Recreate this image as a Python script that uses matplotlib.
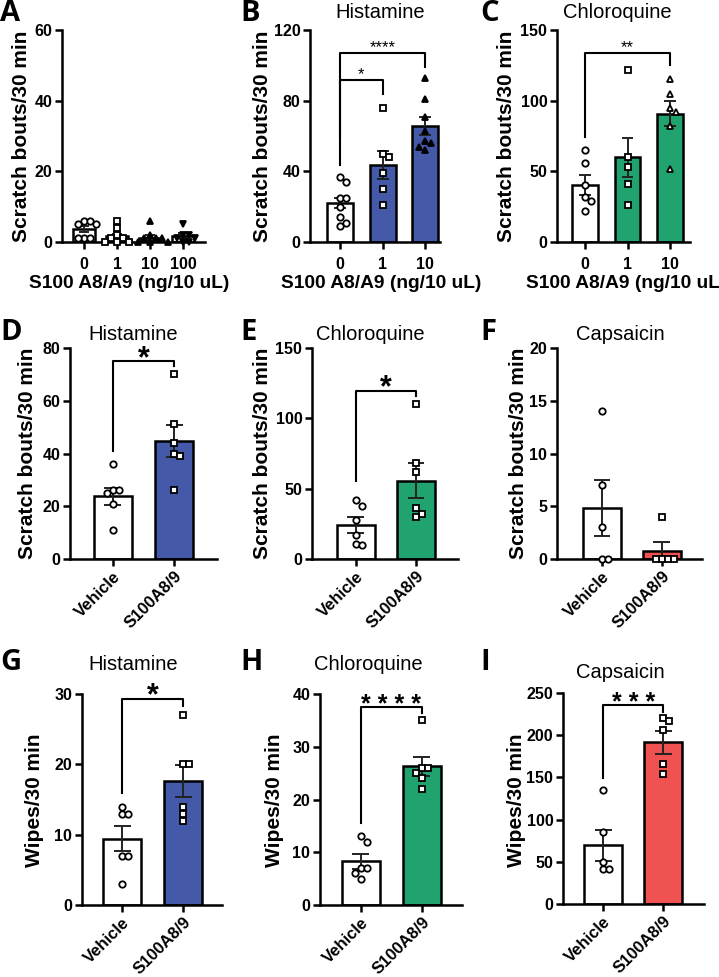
import matplotlib.pyplot as plt
import numpy as np

plt.rcParams['font.family'] = ['Liberation Sans', 'DejaVu Sans']

W, H = 719, 977

# ---- data ----
dose_labels_a = ["0", "1", "10", "100"]
dose_labels_bc = ["0", "1", "10"]
treat_labels = ["Vehicle", "S100A8/9"]

a_means = [3.6, 1.7, 1.2, 1.8]
a_sems = [0.8, 0.7, 0.7, 0.7]
a_points = [[6, 6, 5, 5, 1, 1, 1], [6, 4, 2, 1, 1, 0, 0, 0],
            [6, 2, 1, 1, 1, 0, 0, 0], [5, 2, 2, 1, 1, 0, 0]]

b_means = [21.9, 43.5, 65.8]
b_sems = [2.8, 7.8, 5.2]
b_points = [[37, 34, 25, 25, 20, 14, 11, 9], [76, 50, 48, 39, 30, 21],
            [93, 81, 71, 63, 57, 56, 54, 52]]

c_means = [40.5, 59.8, 90.8]
c_sems = [7.0, 13.5, 9.0]
c_points = [[65, 56, 40, 32, 29, 22], [122, 60, 53, 41, 26],
            [115, 105, 95, 92, 82, 52]]

d_means = [23.8, 44.7]
d_sems = [3.3, 6.0]
d_points = [[36, 26, 26, 25, 21, 11], [70, 51, 44, 40, 39, 26]]

e_means = [24.0, 55.8]
e_sems = [5.8, 12.5]
e_points = [[42, 38, 28, 17, 11, 10], [110, 68, 62, 36, 32, 30]]

f_means = [4.8, 0.8]
f_sems = [2.65, 0.8]
f_points = [[14, 7, 3, 0, 0], [4, 0, 0, 0, 0]]

g_means = [9.45, 17.6]
g_sems = [1.8, 2.3]
g_points = [[14, 13, 13, 7, 7, 3], [27, 20, 20, 14, 13, 12]]

h_means = [8.3, 26.3]
h_sems = [1.4, 1.8]
h_points = [[13, 12, 7, 7, 6, 5], [35, 26, 26, 25, 24, 22]]

i_means = [69.8, 191.5]
i_sems = [18.4, 13.5]
i_points = [[135, 85, 50, 41, 41], [220, 217, 206, 166, 154]]

BLUE = "#4459a8"
GREEN = "#20a36e"
RED = "#f05252"

fig = plt.figure(figsize=(W / 100, H / 100), dpi=100)


def fx(x):
    return x / W


def fy(y):
    return 1 - y / H


def swarm(vals, ppu_y, d=6.0):
    # simple deterministic beeswarm, offsets in pixels
    placed = []
    offs = []
    for v in vals:
        y = v * ppu_y
        for k in [0, 1, -1, 2, -2, 3, -3, 4, -4]:
            x = k * d
            if all((x - px) ** 2 + (y - py) ** 2 >= (d * 0.95) ** 2 for px, py in placed):
                break
        placed.append((x, y))
        offs.append(x)
    return offs


def panel(box, labels, means, sems, points, colors, markers, mfcs,
          ymax, yticks, xlim, width, rotate):
    sx, ex, ty, by = box
    ax = fig.add_axes([fx(sx), fy(by), fx(ex - sx), (by - ty) / H])
    x = np.arange(len(labels))
    ax.bar(x, means, width, color=colors, edgecolor="black", linewidth=1.8, zorder=2)
    ppu_y = (by - ty) / ymax
    ppu_x = (ex - sx) / (xlim[1] - xlim[0])
    cap = 0.14
    for i in range(len(labels)):
        lo, hi = means[i] - sems[i], means[i] + sems[i]
        ax.vlines(x[i], lo, hi, color="#222222", lw=1.4, zorder=4)
        ax.hlines([lo, hi], x[i] - cap, x[i] + cap, color="#222222", lw=1.4, zorder=4)
        offs = swarm(points[i], ppu_y)
        ax.plot(x[i] + np.array(offs) / ppu_x, points[i], linestyle="none",
                marker=markers[i], markersize=4.6, markerfacecolor=mfcs[i],
                markeredgecolor="black", markeredgewidth=1.3, zorder=5, clip_on=False)
    ax.set_xlim(xlim)
    ax.set_ylim(0, ymax)
    ax.set_yticks(yticks)
    ax.set_xticks(x)
    for s in ["top", "right"]:
        ax.spines[s].set_visible(False)
    for s in ["left", "bottom"]:
        ax.spines[s].set_linewidth(1.8)
        ax.spines[s].set_zorder(3)
    ax.tick_params(width=1.8, length=5, labelsize=11.5)
    ax.tick_params(axis="y", pad=2)
    for t in ax.get_yticklabels():
        t.set_fontweight("bold")
    if rotate:
        ax.tick_params(axis="x", pad=2)
        ax.set_xticklabels(labels, rotation=45, ha="right", rotation_mode="anchor",
                           fontsize=12, fontweight="bold")
    else:
        ax.tick_params(axis="x", pad=6)
        ax.set_xticklabels(labels, fontsize=11.5, fontweight="bold")
    ax.patch.set_alpha(0)
    return ax


def bracket(ax, x0, x1, y, l0, r1, txt, size, weight="bold", dy=0.0):
    ax.plot([x0, x0, x1, x1], [l0, y, y, r1], color="black", lw=1.5,
            clip_on=False, zorder=6)
    ax.text((x0 + x1) / 2, y + dy, txt, ha="center", va="bottom",
            fontsize=size, fontweight=weight, clip_on=False)


def ylab(x, y, txt):
    fig.text(fx(x), fy(y), txt, rotation=90, ha="center", va="center",
             fontsize=15, fontweight="bold")


def title(x, y, txt):
    fig.text(fx(x), fy(y), txt, ha="center", va="center", fontsize=14.5)


def letter(x, y, txt):
    fig.text(fx(x), fy(y), txt, ha="left", va="top", fontsize=21,
             fontweight="bold", family="Open Sans")


# ---- row 1 ----
ax = panel((62, 205, 30, 242), dose_labels_a, a_means, a_sems, a_points,
           ["white"] * 4, ["o", "s", "^", "v"], ["white", "white", "black", "black"],
           60, [0, 20, 40, 60], (-0.667, 3.667), 0.64, False)
ylab(22, 136, "Scratch bouts/30 min")
fig.text(fx(129), fy(284), "S100 A8/A9 (ng/10 uL)", ha="center", va="center",
         fontsize=13.8, fontweight="bold")
letter(0, -1, "A")

ax = panel((310, 440, 30, 242), dose_labels_bc, b_means, b_sems, b_points,
           ["white", BLUE, BLUE], ["o", "s", "^"], ["white", "white", "black"],
           120, [0, 40, 80, 120], (-0.706, 2.35), 0.61, False)
bracket(ax, 0, 1, 91.7, 59.5, 83.7, "*", 12, "normal", dy=-1)
bracket(ax, 0, 2, 106.8, 43.5, 99, "****", 12, "normal", dy=-1)
ylab(262, 136, "Scratch bouts/30 min")
fig.text(fx(381), fy(284), "S100 A8/A9 (ng/10 uL)", ha="center", va="center",
         fontsize=13.8, fontweight="bold")
title(380, 12, "Histamine")
letter(240, -1, "B")

ax = panel((557, 690, 30, 242), dose_labels_bc, c_means, c_sems, c_points,
           ["white", GREEN, GREEN], ["o", "s", "^"], ["white", "white", "white"],
           150, [0, 50, 100, 150], (-0.66, 2.47), 0.61, False)
bracket(ax, 0, 2, 133.5, 74.4, 125, "**", 12, "normal", dy=-1.5)
ylab(507, 136, "Scratch bouts/30 min")
fig.text(fx(626), fy(284), "S100 A8/A9 (ng/10 uL)", ha="center", va="center",
         fontsize=13.8, fontweight="bold")
title(617, 12, "Chloroquine")
letter(480, -1, "C")

# ---- row 2 ----
ax = panel((70, 217, 348, 559), treat_labels, d_means, d_sems, d_points,
           ["white", BLUE], ["o", "s"], ["white", "white"],
           80, [0, 20, 40, 60, 80], (-0.70, 1.70), 0.63, True)
bracket(ax, 0, 1, 75.2, 40.8, 73, "*", 22, dy=-5)
ylab(28, 453, "Scratch bouts/30 min")
title(133, 335, "Histamine")
letter(0, 318, "D")

ax = panel((312, 458, 348, 559), treat_labels, e_means, e_sems, e_points,
           ["white", GREEN], ["o", "s"], ["white", "white"],
           150, [0, 50, 100, 150], (-0.73, 1.70), 0.63, True)
bracket(ax, 0, 1, 119.7, 55.2, 115.6, "*", 22, dy=-9)
ylab(262, 453, "Scratch bouts/30 min")
title(370, 335, "Chloroquine")
letter(240, 318, "E")

ax = panel((557, 702, 348, 559), treat_labels, f_means, f_sems, f_points,
           ["white", RED], ["o", "s"], ["white", "white"],
           20, [0, 5, 10, 15, 20], (-0.75, 1.67), 0.63, True)
ylab(518, 453, "Scratch bouts/30 min")
title(620, 335, "Capsaicin")
letter(480, 318, "F")

# ---- row 3 ----
ax = panel((82, 222, 694, 905), treat_labels, g_means, g_sems, g_points,
           ["white", BLUE], ["o", "s"], ["white", "white"],
           30, [0, 10, 20, 30], (-0.66, 1.64), 0.63, True)
bracket(ax, 0, 1, 29.3, 15.9, 28.3, "*", 22, dy=-1.8)
ylab(35, 800, "Wipes/30 min")
title(133, 665, "Histamine")
letter(0, 648, "G")

ax = panel((320, 462, 694, 905), treat_labels, h_means, h_sems, h_points,
           ["white", GREEN], ["o", "s"], ["white", "white"],
           40, [0, 10, 20, 30, 40], (-0.67, 1.66), 0.63, True)
bracket(ax, 0, 1, 37.6, 15.6, 36.4, "* * * *", 18, dy=-2)
ylab(275, 800, "Wipes/30 min")
title(368, 665, "Chloroquine")
letter(240, 648, "H")

ax = panel((563, 704, 693, 904), treat_labels, i_means, i_sems, i_points,
           ["white", RED], ["o", "s"], ["white", "white"],
           250, [0, 50, 100, 150, 200, 250], (-0.67, 1.68), 0.63, True)
bracket(ax, 0, 1, 236, 149, 228, "* * *", 18, dy=-12)
ylab(517, 800, "Wipes/30 min")
title(620, 672, "Capsaicin")
letter(480, 648, "I")

fig.savefig("out.png", dpi=100)
